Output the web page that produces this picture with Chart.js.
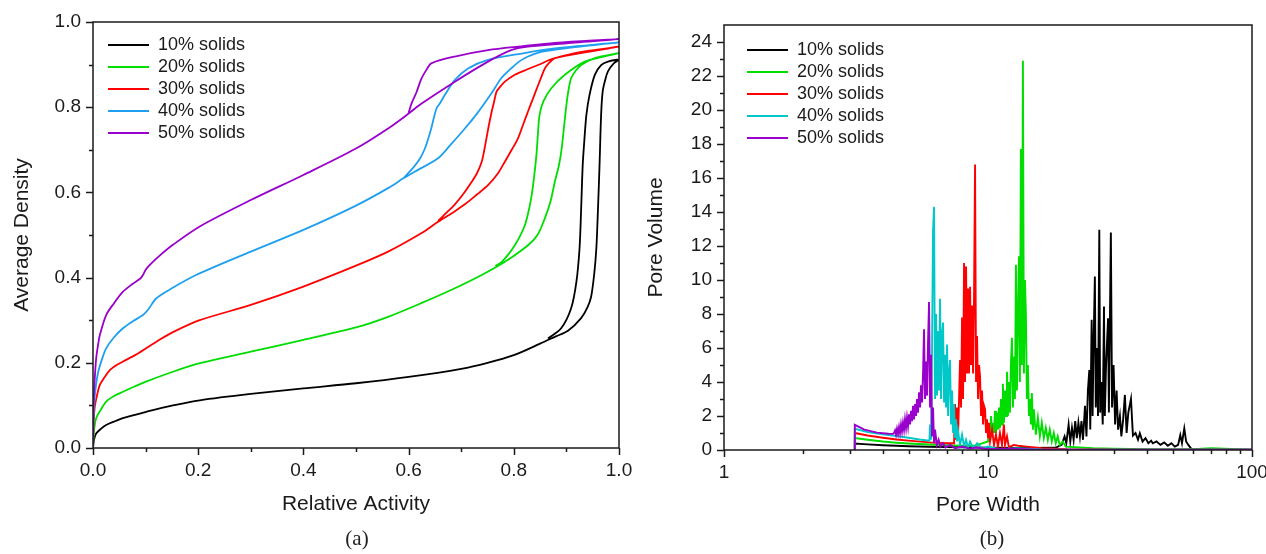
<!DOCTYPE html>
<html>
<head>
<meta charset="utf-8">
<script src="https://cdn.jsdelivr.net/npm/chart.js@4.4.1/dist/chart.umd.min.js"></script>
<style>
  html, body { margin: 0; padding: 0; background: #fff; }
  #wrap { position: relative; width: 1266px; height: 554px; overflow: hidden; }
  canvas { position: absolute; top: 0; }
  #chartA { left: 0; }
  #chartB { left: 640px; }
  .cap { position: absolute; top: 526px; font-family: 'Liberation Serif', 'DejaVu Serif', serif; font-size: 21px; color: #222; transform: translateX(-50%); }
</style>
</head>
<body>
<div id="wrap">
  <canvas id="chartA" width="640" height="554"></canvas>
  <canvas id="chartB" width="626" height="554"></canvas>
  <div class="cap" style="left:357px">(a)</div>
  <div class="cap" style="left:992px">(b)</div>
</div>
<script>
const seriesNames = ['10% solids', '20% solids', '30% solids', '40% solids', '50% solids'];
const colorsA = ['#000000', '#00dd00', '#ff0000', '#1e9ff0', '#9a00cc'];
const colorsB = ['#000000', '#00dd00', '#ff0000', '#00c8c8', '#9a00cc'];

// (a) isotherms: adsorption branch out to 1.0, then desorption branch back
// [relative activity, average density]
const iso10 = [[0,0],[0.002,0.02],[0.006,0.034],[0.015,0.045],[0.025,0.054],[0.04,0.062],[0.057,0.07],[0.08,0.078],
  [0.101,0.085],[0.152,0.1],[0.203,0.112],[0.3,0.127],[0.4,0.14],[0.5,0.152],[0.6,0.167],[0.7,0.186],[0.75,0.2],
  [0.8,0.218],[0.85,0.245],[0.88,0.262],[0.903,0.275],[0.928,0.305],[0.94,0.33],[0.947,0.355],[0.953,0.41],
  [0.957,0.47],[0.96,0.56],[0.963,0.664],[0.966,0.782],[0.969,0.837],[0.974,0.865],[0.979,0.884],[0.99,0.903],[1.0,0.911],
  [0.979,0.907],[0.966,0.899],[0.954,0.876],[0.944,0.829],[0.938,0.782],[0.934,0.72],[0.931,0.664],[0.928,0.56],
  [0.925,0.469],[0.919,0.39],[0.909,0.328],[0.89,0.281],[0.865,0.257]];
const iso20 = [[0,0],[0.002,0.04],[0.006,0.07],[0.015,0.09],[0.025,0.109],[0.04,0.122],[0.057,0.132],[0.08,0.145],
  [0.101,0.156],[0.152,0.179],[0.203,0.199],[0.3,0.226],[0.4,0.254],[0.5,0.283],[0.561,0.308],[0.624,0.34],
  [0.688,0.375],[0.739,0.406],[0.783,0.437],[0.827,0.476],[0.845,0.5],[0.859,0.539],[0.87,0.58],[0.878,0.625],
  [0.886,0.665],[0.891,0.703],[0.896,0.76],[0.9,0.805],[0.904,0.84],[0.909,0.868],[0.918,0.886],[0.928,0.899],
  [0.954,0.915],[0.98,0.922],[1.0,0.927],
  [0.935,0.907],[0.897,0.876],[0.871,0.844],[0.856,0.813],[0.849,0.782],[0.846,0.74],[0.843,0.688],[0.838,0.63],
  [0.833,0.586],[0.827,0.55],[0.821,0.523],[0.812,0.498],[0.802,0.476],[0.79,0.455],[0.777,0.437],[0.765,0.427]];
const iso30 = [[0,0],[0.001,0.05],[0.003,0.093],[0.007,0.12],[0.013,0.148],[0.022,0.166],[0.032,0.183],[0.045,0.195],
  [0.057,0.203],[0.08,0.218],[0.101,0.234],[0.125,0.253],[0.152,0.272],[0.203,0.3],[0.3,0.336],[0.4,0.379],
  [0.5,0.428],[0.561,0.461],[0.624,0.504],[0.656,0.531],[0.688,0.556],[0.707,0.572],[0.73,0.595],[0.751,0.617],
  [0.77,0.645],[0.783,0.672],[0.796,0.7],[0.808,0.727],[0.818,0.76],[0.827,0.79],[0.837,0.822],[0.846,0.851],
  [0.853,0.873],[0.859,0.891],[0.868,0.905],[0.878,0.915],[0.91,0.925],[0.941,0.932],[0.97,0.937],[1.0,0.942],
  [0.941,0.93],[0.878,0.915],[0.846,0.899],[0.82,0.886],[0.802,0.876],[0.783,0.86],[0.772,0.845],[0.767,0.836],
  [0.762,0.81],[0.758,0.79],[0.753,0.76],[0.748,0.727],[0.744,0.7],[0.739,0.672],[0.73,0.645],[0.72,0.625],
  [0.705,0.598],[0.688,0.572],[0.67,0.55],[0.656,0.533]];
const iso40 = [[0,0],[0.001,0.07],[0.003,0.117],[0.006,0.15],[0.01,0.179],[0.017,0.208],[0.025,0.234],[0.04,0.26],
  [0.057,0.281],[0.075,0.297],[0.095,0.312],[0.105,0.325],[0.12,0.351],[0.15,0.375],[0.196,0.406],[0.3,0.461],
  [0.4,0.512],[0.5,0.569],[0.561,0.61],[0.59,0.633],[0.612,0.649],[0.656,0.68],[0.68,0.712],[0.707,0.75],
  [0.73,0.785],[0.751,0.821],[0.765,0.847],[0.776,0.868],[0.795,0.891],[0.81,0.907],[0.827,0.919],[0.852,0.93],
  [0.909,0.94],[0.96,0.947],[1.0,0.952],
  [0.878,0.938],[0.815,0.926],[0.751,0.911],[0.713,0.891],[0.688,0.864],[0.669,0.829],[0.66,0.81],[0.653,0.797],
  [0.648,0.775],[0.643,0.75],[0.637,0.725],[0.631,0.703],[0.622,0.68],[0.61,0.66],[0.59,0.633]];
const iso50 = [[0,0],[0.001,0.1],[0.003,0.156],[0.006,0.21],[0.01,0.245],[0.013,0.265],[0.025,0.312],[0.04,0.34],
  [0.057,0.367],[0.075,0.385],[0.09,0.398],[0.095,0.406],[0.1,0.418],[0.108,0.43],[0.13,0.455],[0.152,0.477],
  [0.203,0.52],[0.3,0.582],[0.4,0.641],[0.5,0.703],[0.561,0.75],[0.6,0.785],[0.624,0.808],[0.688,0.86],
  [0.751,0.907],[0.795,0.934],[0.827,0.942],[0.9,0.95],[1.0,0.96],
  [0.878,0.951],[0.815,0.943],[0.751,0.934],[0.688,0.919],[0.643,0.903],[0.635,0.89],[0.624,0.866],
  [0.615,0.835],[0.606,0.81],[0.6,0.787]];

// (b) pore size distributions [pore width, pore volume]
const pore10 = [[3.13,0],[3.13,0.38],[3.5,0.33],[4,0.28],[4.5,0.25],[5,0.22],[6,0.19],[8,0.16],[10,0.14],[14,0.12],
  [18,0.13],[19,0.3],[19.5,0.8],[19.8,0.4],[20.2,1.5],[20.5,0.5],[20.8,1.3],[21.1,0.6],[21.4,1.7],[21.7,0.7],
  [22,1.6],[22.3,0.8],[22.6,1.7],[22.9,0.6],[23.3,2.6],[23.6,0.8],[23.9,3.5],[24.2,4.7],[24.4,1.2],[24.7,7.66],
  [24.9,2.0],[25.1,6.0],[25.4,10.2],[25.6,2.5],[25.9,6.0],[26.1,2.0],[26.4,12.96],[26.6,2.2],[26.9,4.0],[27.2,1.5],
  [27.5,8.44],[27.7,2.0],[28,5.0],[28.5,7.75],[28.7,2.2],[29.2,12.8],[29.5,2.5],[29.9,5.0],[30.3,1.5],[30.7,3.5],
  [31.1,1.2],[31.6,2.0],[32,0.8],[32.5,1.8],[33,3.24],[33.5,1.0],[34,2.2],[34.8,3.0],[35.4,0.85],[36.2,1.0],
  [37,0.6],[37.6,0.98],[38.5,0.5],[39.5,0.7],[40.5,0.4],[41.5,0.55],[42.1,0.39],[43.5,0.5],[45,0.3],[46.5,0.45],
  [48,0.25],[49.5,0.4],[51,0.2],[52.5,0.3],[53.5,0.88],[54.3,0.4],[55.4,1.27],[56.3,0.5],[57.4,0.3],[59,0.05],
  [65,0.03],[100,0.02]];
const pore20 = [[3.13,0],[3.13,0.7],[3.5,0.6],[4,0.5],[4.5,0.43],[5,0.38],[6,0.32],[7,0.28],[8,0.26],[9,0.27],
  [10,0.5],[10.09,1.2],[10.18,0.6],[10.27,2.0],[10.36,0.8],[10.45,1.6],[10.54,1.0],[10.63,2.3],[10.72,1.0],
  [10.82,2.2],[10.91,1.2],[11,2.5],[11.1,1.3],[11.2,3.0],[11.3,1.5],[11.39,3.9],[11.49,1.6],[11.6,3.5],[11.7,2.0],
  [11.8,4.6],[11.9,2.0],[12,4.0],[12.11,2.2],[12.21,5.0],[12.32,6.6],[12.43,2.5],[12.54,5.5],[12.65,3.0],
  [12.76,10.9],[12.87,3.5],[12.98,8.0],[13.1,11.4],[13.21,4.0],[13.32,17.7],[13.44,5.0],[13.56,22.9],[13.68,4.5],
  [13.8,10.0],[13.92,7.95],[14.04,3.0],[14.16,5.0],[14.29,2.0],[14.41,3.0],[14.54,1.5],[14.66,3.35],[14.79,1.2],
  [14.92,2.4],[15.18,0.9],[15.45,1.9],[15.72,0.8],[15.99,1.6],[16.27,0.7],[16.56,1.3],[16.85,0.6],[17.14,1.2],
  [17.44,0.5],[17.75,1.0],[18.06,0.4],[18.37,0.8],[18.69,0.3],[19.2,0.5],[19.7,0.2],[25,0.1],[30,0.08],[40,0.05],
  [60,0.05],[70,0.1],[100,0.02]];
const pore30 = [[3.13,0],[3.13,1.0],[3.5,0.85],[4,0.72],[4.5,0.62],[5,0.55],[6,0.45],[7,0.4],[7.437,0.4],[7.502,2.7],
  [7.568,0.6],[7.634,2.5],[7.701,0.8],[7.769,3.0],[7.837,5.3],[7.905,2.5],[7.975,7.8],[8.044,3.0],[8.115,11.0],
  [8.186,4.0],[8.258,10.8],[8.33,4.5],[8.403,9.5],[8.477,4.5],[8.551,9.6],[8.626,5.0],[8.701,8.5],[8.778,4.5],
  [8.854,9.0],[8.932,16.8],[9.01,4.0],[9.089,6.7],[9.169,3.0],[9.249,5.0],[9.33,4.3],[9.412,2.0],[9.494,3.5],
  [9.577,1.5],[9.661,2.6],[9.746,2.4],[9.831,1.0],[9.917,1.8],[10,0.7],[10.09,1.6],[10.18,0.5],[10.36,1.2],
  [10.54,0.3],[10.72,0.9],[10.91,0.2],[11.1,1.0],[11.3,0.3],[11.49,1.5],[11.6,0.3],[11.8,0.8],[12,0.15],
  [12.5,0.3],[13,0.25],[14,0.2],[16,0.1],[20,0.05],[30,0.02],[100,0.02]];
const pore40 = [[3.13,0],[3.13,1.25],[3.5,1.05],[4,0.92],[4.5,0.82],[5,0.72],[5.5,0.62],[6,0.55],[6.032,1.5],
  [6.085,0.6],[6.138,6.0],[6.192,12.9],[6.246,14.3],[6.301,3.0],[6.356,8.0],[6.412,3.2],[6.468,7.0],[6.525,3.5],
  [6.582,8.9],[6.64,3.0],[6.698,6.8],[6.757,7.5],[6.816,2.8],[6.876,5.6],[6.936,2.5],[6.997,6.2],[7.058,2.0],
  [7.12,4.6],[7.182,5.3],[7.245,1.5],[7.309,3.5],[7.373,1.0],[7.437,2.7],[7.502,0.7],[7.568,1.8],[7.634,0.5],
  [7.701,1.1],[7.837,0.3],[7.975,0.9],[8.115,0.2],[8.258,0.6],[8.403,0.15],[8.551,0.5],[8.8,0.1],[9.1,0.4],
  [9.5,0.1],[10,0.2],[11,0.05],[13,0.1],[16,0.03],[25,0.02],[100,0.02]];
const pore50 = [[3.13,0],[3.13,1.48],[3.4,1.2],[3.8,1.02],[4.2,0.96],[4.367,0.95],[4.405,1.0],[4.444,1.15],
  [4.483,0.9],[4.522,1.25],[4.562,0.95],[4.602,1.35],[4.642,1.0],[4.683,1.5],[4.724,1.1],[4.765,1.6],[4.807,1.2],
  [4.849,1.8],[4.892,1.3],[4.935,1.9],[4.978,1.4],[5.022,2.1],[5.066,1.5],[5.11,2.3],[5.155,1.7],[5.2,2.6],
  [5.246,1.8],[5.292,2.7],[5.338,2.0],[5.385,3.0],[5.432,2.2],[5.48,3.4],[5.528,2.5],[5.576,3.8],[5.625,2.8],
  [5.675,4.5],[5.724,7.1],[5.774,3.0],[5.825,5.2],[5.876,3.2],[5.928,6.4],[5.98,8.7],[6.032,2.5],[6.085,5.6],
  [6.138,0.8],[6.192,2.5],[6.246,0.4],[6.3,1.2],[6.4,0.3],[6.5,0.6],[6.6,0.2],[6.75,0.4],[6.9,0.15],[7.2,0.3],
  [7.5,0.1],[8,0.2],[8.5,0.08],[9,0.15],[10,0.05],[12,0.08],[15,0.03],[20,0.02],[30,0.02],[100,0.02]];

const isoData = [iso10, iso20, iso30, iso40, iso50];
const poreData = [pore10, pore20, pore30, pore40, pore50];

// frame + Origin-style outward ticks (major + minor)
const frameTicks = {
  id: 'frameTicks',
  afterDraw(chart, args, o) {
    const {ctx, chartArea: a, scales} = chart;
    ctx.save();
    ctx.strokeStyle = '#1a1a1a';
    ctx.lineWidth = 1.5;
    ctx.strokeRect(a.left, a.top, a.right - a.left, a.bottom - a.top);
    ctx.beginPath();
    const xs = (vals, len) => vals.forEach(v => {
      const px = Math.round(scales.x.getPixelForValue(v)) + 0.5;
      ctx.moveTo(px, a.bottom); ctx.lineTo(px, a.bottom + len);
    });
    const ys = (vals, len) => vals.forEach(v => {
      const py = Math.round(scales.y.getPixelForValue(v)) + 0.5;
      ctx.moveTo(a.left, py); ctx.lineTo(a.left - len, py);
    });
    xs(o.xMajor, 7); xs(o.xMinor, 4);
    ys(o.yMajor, 7); ys(o.yMinor, 4);
    ctx.stroke();
    ctx.restore();
  }
};

// put the legend inside the plot, top-left
const legendSpot = {
  id: 'legendSpot',
  afterLayout(chart, args, o) {
    const lg = chart.legend, a = chart.chartArea;
    lg.left = a.left + o.dx; lg.top = a.top + o.dy;
    lg.right = lg.left + lg.width; lg.bottom = lg.top + lg.height;
  }
};

const font = 'Liberation Sans, Arial, sans-serif';
const ink = '#1a1a1a';

function baseOptions(pad, legendDx, legendDy, ticksOpt) {
  return {
    responsive: false,
    animation: false,
    events: [],
    layout: { padding: pad },
    plugins: {
      tooltip: { enabled: false },
      legend: {
        position: 'chartArea',
        align: 'start',
        labels: {
          usePointStyle: true, pointStyle: 'line', pointStyleWidth: 41,
          padding: 4, color: ink, font: { family: font, size: 18 },
          sort: (p, q) => p.datasetIndex - q.datasetIndex
        }
      },
      legendSpot: { dx: legendDx, dy: legendDy },
      frameTicks: ticksOpt
    }
  };
}

// ---- (a)
const optA = baseOptions({ top: 22, right: 21, left: 0, bottom: 0 }, 11, 10, {
  xMajor: [0, 0.2, 0.4, 0.6, 0.8, 1], xMinor: [0.1, 0.3, 0.5, 0.7, 0.9],
  yMajor: [0, 0.2, 0.4, 0.6, 0.8, 1], yMinor: [0.1, 0.3, 0.5, 0.7, 0.9]
});
optA.scales = {
  x: {
    type: 'linear', min: 0, max: 1,
    grid: { display: false, drawTicks: true, tickLength: 7 },
    border: { display: false },
    ticks: { stepSize: 0.2, padding: 4, color: ink, font: { family: font, size: 19 }, maxRotation: 0, callback: v => v.toFixed(1) },
    title: { display: true, text: 'Relative Activity', color: ink, font: { family: font, size: 21 }, padding: { top: 0, bottom: 37 } },
    afterFit: s => { s.height = 106; s.paddingLeft = 0; s.paddingRight = 0; }
  },
  y: {
    type: 'linear', min: 0, max: 1,
    grid: { display: false, drawTicks: true, tickLength: 7 },
    border: { display: false },
    ticks: { stepSize: 0.2, padding: 5, color: ink, font: { family: font, size: 19 }, callback: v => v.toFixed(1) },
    title: { display: true, text: 'Average Density', color: ink, font: { family: font, size: 21 }, padding: { top: 10, bottom: 0 } },
    afterFit: s => { s.width = 93; s.paddingTop = 0; s.paddingBottom = 0; }
  }
};

new Chart(document.getElementById('chartA'), {
  type: 'scatter',
  data: {
    datasets: isoData.map((pts, i) => ({
      label: seriesNames[i],
      data: pts.map(p => ({ x: p[0], y: p[1] })),
      showLine: true, borderColor: colorsA[i], backgroundColor: colorsA[i],
      borderWidth: 1.8, pointRadius: 0, tension: 0.3, order: 5 - i
    }))
  },
  options: optA,
  plugins: [frameTicks, legendSpot]
});

// ---- (b)
const optB = baseOptions({ top: 25, right: 14, left: 0, bottom: 0 }, 19, 12, {
  xMajor: [1, 10, 100], xMinor: [2, 3, 4, 5, 6, 7, 8, 9, 20, 30, 40, 50, 60, 70, 80, 90],
  yMajor: [0, 2, 4, 6, 8, 10, 12, 14, 16, 18, 20, 22, 24], yMinor: [1, 3, 5, 7, 9, 11, 13, 15, 17, 19, 21, 23]
});
optB.scales = {
  x: {
    type: 'logarithmic', min: 1, max: 100,
    grid: { display: false, drawTicks: true, tickLength: 7 },
    border: { display: false },
    ticks: { padding: 4, color: ink, font: { family: font, size: 19 }, maxRotation: 0, autoSkip: false,
      callback: v => ([1, 10, 100].includes(v) ? String(v) : '') },
    title: { display: true, text: 'Pore Width', color: ink, font: { family: font, size: 21 }, padding: { top: 0, bottom: 36 } },
    afterFit: s => { s.height = 104; s.paddingLeft = 0; s.paddingRight = 0; }
  },
  y: {
    type: 'linear', min: 0, max: 25,
    grid: { display: false, drawTicks: true, tickLength: 7 },
    border: { display: false },
    ticks: { stepSize: 2, includeBounds: false, padding: 5, color: ink, font: { family: font, size: 19 } },
    title: { display: true, text: 'Pore Volume', color: ink, font: { family: font, size: 21 }, padding: { top: 4, bottom: 0 } },
    afterFit: s => { s.width = 84; s.paddingTop = 0; s.paddingBottom = 0; }
  }
};

new Chart(document.getElementById('chartB'), {
  type: 'scatter',
  data: {
    datasets: poreData.map((pts, i) => ({
      label: seriesNames[i],
      data: pts.map(p => ({ x: p[0], y: p[1] })),
      showLine: true, borderColor: colorsB[i], backgroundColor: colorsB[i],
      borderWidth: 1.9, pointRadius: 0, tension: 0, order: 5 - i
    }))
  },
  options: optB,
  plugins: [frameTicks, legendSpot]
});
</script>
</body>
</html>
